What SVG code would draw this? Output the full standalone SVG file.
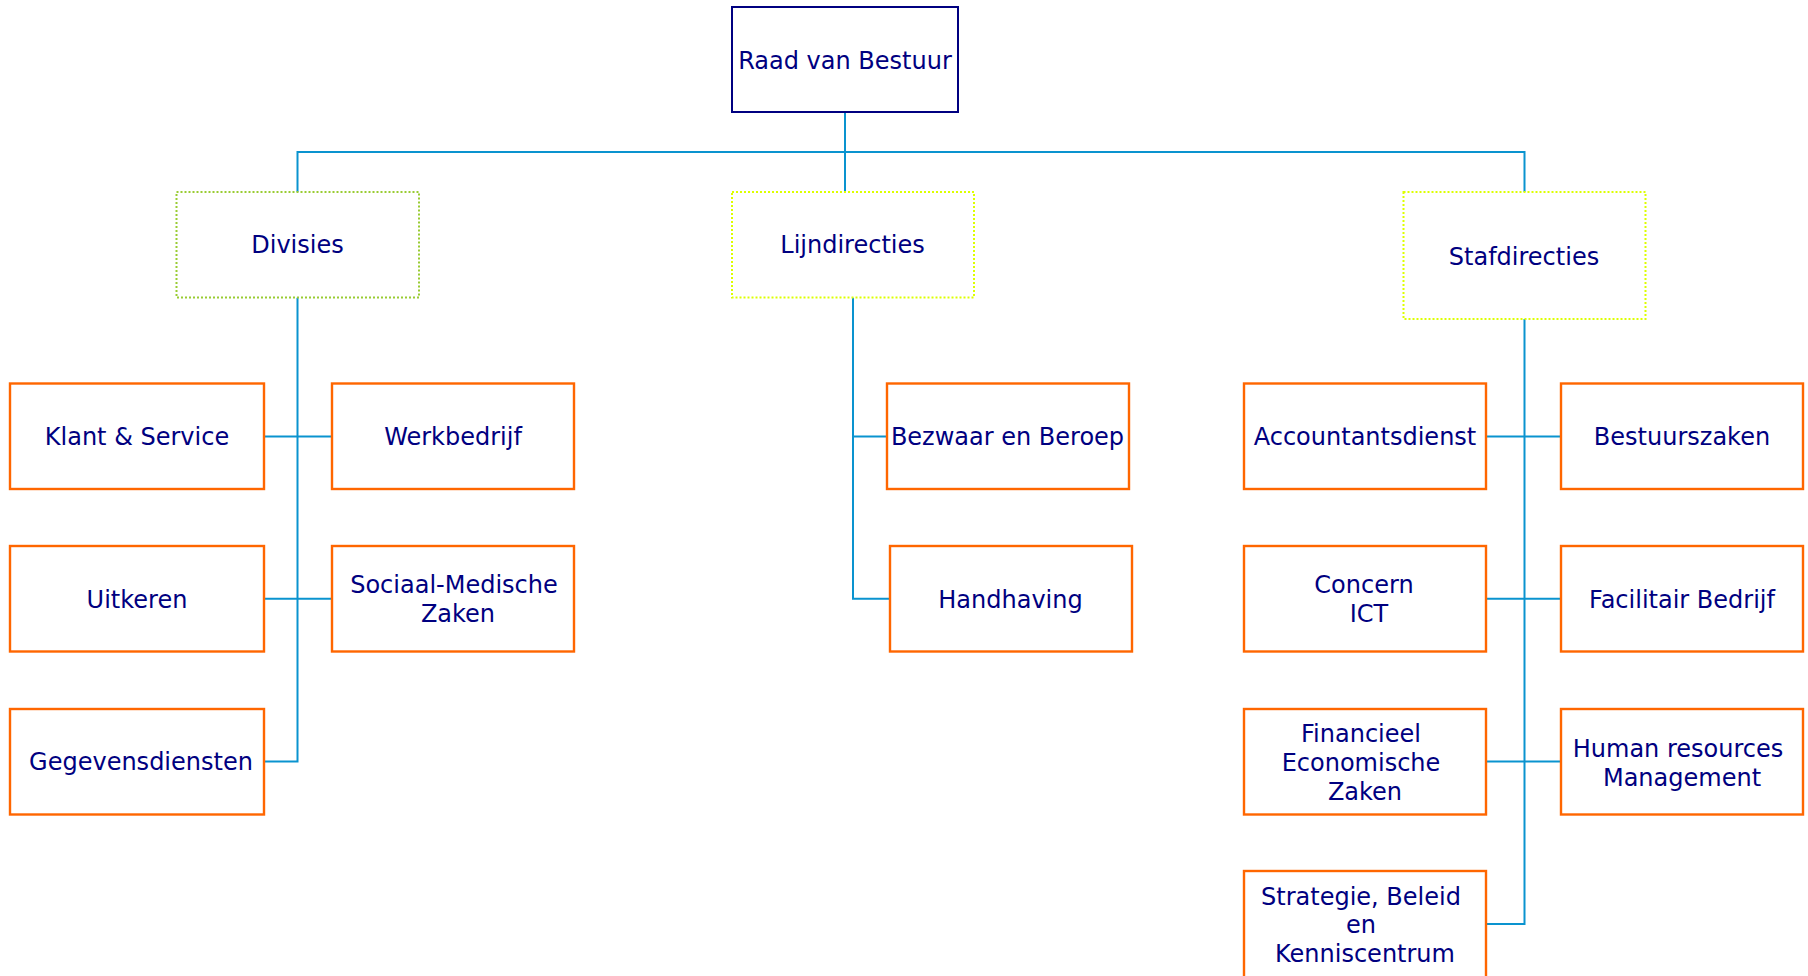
<svg xmlns="http://www.w3.org/2000/svg" width="1808" height="976" viewBox="0 0 1808 976">
  <style>
    text { font-family: "DejaVu Sans", "Liberation Sans", sans-serif; font-size: 24px; fill: #000080; text-anchor: middle; }
    .top { fill: #ffffff; stroke: #000080; stroke-width: 2; }
    .unit { fill: #ffffff; stroke: #ff6600; stroke-width: 2.4; }
    .grp-green { fill: #ffffff; stroke: #99cc33; stroke-width: 2; stroke-dasharray: 2 2; }
    .grp-yellow { fill: #ffffff; stroke: #ddff00; stroke-width: 2; stroke-dasharray: 2 2; }
    .link { fill: none; stroke: #0a93cf; stroke-width: 2; }
  </style>

  <!-- connectors -->
  <g id="connectors">
    <path class="link" d="M845,112 V192"/>
    <path class="link" d="M297.5,192 V152 H1524.5 V192"/>
    <!-- Divisies -->
    <path class="link" d="M297.5,297.5 V761.5 H264"/>
    <path class="link" d="M264,436.5 H332"/>
    <path class="link" d="M264,598.8 H332"/>
    <!-- Lijndirecties -->
    <path class="link" d="M853,297.5 V598.8 H890"/>
    <path class="link" d="M853,436.5 H887"/>
    <!-- Stafdirecties -->
    <path class="link" d="M1524.5,319 V924 H1486"/>
    <path class="link" d="M1486,436.5 H1561"/>
    <path class="link" d="M1486,598.8 H1561"/>
    <path class="link" d="M1486,761.5 H1561"/>
  </g>

  <g id="raad-van-bestuur">
    <rect class="top" x="732" y="7" width="226" height="105"/>
    <text x="845" y="68.5">Raad van Bestuur</text>
  </g>

  <g id="divisies">
    <rect class="grp-green" x="176.5" y="192" width="242.5" height="105.5"/>
    <text x="297.5" y="253">Divisies</text>
  </g>
  <g id="lijndirecties">
    <rect class="grp-yellow" x="732" y="192" width="242" height="105.5"/>
    <text x="852.5" y="253">Lijndirecties</text>
  </g>
  <g id="stafdirecties">
    <rect class="grp-yellow" x="1403.5" y="192" width="242" height="127"/>
    <text x="1524" y="264.5">Stafdirecties</text>
  </g>

  <!-- Divisies -->
  <g id="klant-service">
    <rect class="unit" x="10" y="383.5" width="254" height="105.5"/>
    <text x="137" y="445">Klant &amp; Service</text>
  </g>
  <g id="werkbedrijf">
    <rect class="unit" x="332" y="383.5" width="242" height="105.5"/>
    <text x="453" y="445">Werkbedrijf</text>
  </g>
  <g id="uitkeren">
    <rect class="unit" x="10" y="546" width="254" height="105.5"/>
    <text x="137" y="607.5">Uitkeren</text>
  </g>
  <g id="sociaal-medische-zaken">
    <rect class="unit" x="332" y="546" width="242" height="105.5"/>
    <text x="454" y="593">Sociaal-Medische</text>
    <text x="458" y="622">Zaken</text>
  </g>
  <g id="gegevensdiensten">
    <rect class="unit" x="10" y="709" width="254" height="105.5"/>
    <text x="141" y="770">Gegevensdiensten</text>
  </g>

  <!-- Lijndirecties -->
  <g id="bezwaar-en-beroep">
    <rect class="unit" x="887" y="383.5" width="242" height="105.5"/>
    <text x="1007.5" y="445">Bezwaar en Beroep</text>
  </g>
  <g id="handhaving">
    <rect class="unit" x="890" y="546" width="242" height="105.5"/>
    <text x="1010.5" y="607.5">Handhaving</text>
  </g>

  <!-- Stafdirecties -->
  <g id="accountantsdienst">
    <rect class="unit" x="1244" y="383.5" width="242" height="105.5"/>
    <text x="1365" y="445">Accountantsdienst</text>
  </g>
  <g id="bestuurszaken">
    <rect class="unit" x="1561" y="383.5" width="242" height="105.5"/>
    <text x="1682" y="445">Bestuurszaken</text>
  </g>
  <g id="concern-ict">
    <rect class="unit" x="1244" y="546" width="242" height="105.5"/>
    <text x="1364" y="593">Concern</text>
    <text x="1369" y="622">ICT</text>
  </g>
  <g id="facilitair-bedrijf">
    <rect class="unit" x="1561" y="546" width="242" height="105.5"/>
    <text x="1682" y="607.5">Facilitair Bedrijf</text>
  </g>
  <g id="financieel-economische-zaken">
    <rect class="unit" x="1244" y="709" width="242" height="105.5"/>
    <text x="1361" y="742">Financieel</text>
    <text x="1361" y="771">Economische</text>
    <text x="1365" y="800">Zaken</text>
  </g>
  <g id="human-resources-management">
    <rect class="unit" x="1561" y="709" width="242" height="105.5"/>
    <text x="1678" y="757">Human resources</text>
    <text x="1682" y="786">Management</text>
  </g>
  <g id="strategie-beleid-kenniscentrum">
    <rect class="unit" x="1244" y="871" width="242" height="108"/>
    <text x="1361" y="904.5">Strategie, Beleid</text>
    <text x="1361" y="933">en</text>
    <text x="1365" y="962">Kenniscentrum</text>
  </g>
</svg>
